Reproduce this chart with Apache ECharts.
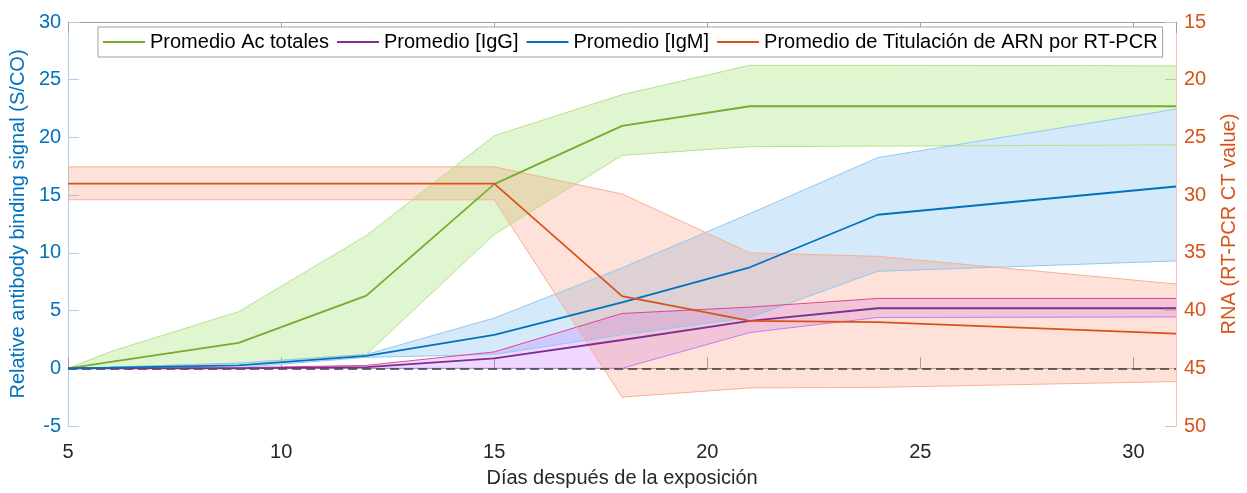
<!DOCTYPE html>
<html><head><meta charset="utf-8">
<script src="https://cdn.jsdelivr.net/npm/echarts@6/dist/echarts.min.js"></script>
<style>html,body{margin:0;padding:0;background:#fff}#c{width:1247px;height:493px}</style>
</head><body><div id="c"></div>
<script>
// ---- data ----
const days = [5, 6, 9, 12, 15, 18, 21, 24, 31];

const totalMean  = [0, 0.55, 2.2, 6.3, 15.95, 21.0, 22.7, 22.7, 22.7];
const totalUpper = [0, 1.45, 4.9, 11.5, 20.15, 23.7, 26.25, 26.25, 26.2];
const totalLower = [0, 0.1, 0.45, 1.2, 11.6, 18.45, 19.2, 19.25, 19.35];

const igmMean  = [0, 0.05, 0.25, 1.08, 2.9, 5.7, 8.75, 13.3, 15.75];
const igmUpper = [0, 0.1, 0.45, 1.2, 4.35, 8.7, 13.4, 18.25, 22.45];
const igmLower = [0, 0, 0.05, 0.95, 1.2, 2.9, 4.4, 8.4, 9.3];

const iggMean  = [0, 0, 0, 0.1, 0.85, 2.45, 4.1, 5.2, 5.2];
const iggUpper = [0, 0, 0.05, 0.25, 1.42, 4.75, 5.3, 6.05, 6.05];
const iggLower = [0, 0, 0, 0, 0, 0, 3.1, 4.4, 4.45];

// RT-PCR CT values (right axis)
const ctMean = [29, 29, 29, 29, 29, 38.75, 40.9, 41.0, 42.0];
const ctLow  = [27.55, 27.55, 27.55, 27.55, 27.55, 29.9, 35.0, 35.3, 37.7];
const ctHigh = [30.4, 30.4, 30.4, 30.4, 30.4, 47.5, 46.7, 46.65, 46.15];

const seriesNames = ['Promedio Ac totales', 'Promedio [IgG]', 'Promedio [IgM]', 'Promedio de Titulación de ARN por RT-PCR'];
const xTitle = 'Días después de la exposición';
const yLeftTitle = 'Relative antibody binding signal (S/CO)';
const yRightTitle = 'RNA (RT-PCR CT value)';
const xRange = [5, 31], yLeftRange = [-5, 30], yRightRange = [15, 50], tickStep = 5;

// ---- chart ----
const FONT = "'Liberation Sans', Arial, sans-serif";
const chart = echarts.init(document.getElementById('c'), null, {renderer: 'canvas'});

function bandFill(upper, lower, yAxisIndex, fill) {
  return {
    type: 'custom', yAxisIndex: yAxisIndex, silent: true, z: 1,
    data: days.map((d, i) => [d, upper[i], lower[i]]),
    encode: {x: 0, y: [1, 2]},
    renderItem: function (params, api) {
      if (params.dataIndex !== 0) return null;
      const up = days.map((d, i) => api.coord([d, upper[i]]));
      const lo = days.map((d, i) => api.coord([d, lower[i]]));
      return {type: 'polygon', shape: {points: up.concat(lo.slice().reverse())}, style: {fill: fill, stroke: null}};
    }
  };
}

function bandEdges(upper, lower, yAxisIndex, upColor, lowColor) {
  return {
    type: 'custom', yAxisIndex: yAxisIndex, silent: true, z: 1,
    data: days.map((d, i) => [d, upper[i], lower[i]]),
    encode: {x: 0, y: [1, 2]},
    renderItem: function (params, api) {
      if (params.dataIndex !== 0) return null;
      const up = days.map((d, i) => api.coord([d, upper[i]]));
      const lo = days.map((d, i) => api.coord([d, lower[i]]));
      return {type: 'group', children: [
        {type: 'polyline', shape: {points: up}, style: {fill: null, stroke: upColor, lineWidth: 1}},
        {type: 'polyline', shape: {points: lo}, style: {fill: null, stroke: lowColor, lineWidth: 1}}
      ]};
    }
  };
}

function meanLine(name, vals, color, yAxisIndex) {
  return {
    type: 'line', name: name, yAxisIndex: yAxisIndex, z: 3,
    data: days.map((d, i) => [d, vals[i]]),
    symbol: 'none', showSymbol: false, silent: true,
    lineStyle: {color: color, width: 1.8}, itemStyle: {color: color}
  };
}

const totalLine = meanLine(seriesNames[0], totalMean, '#77AC30', 0);
totalLine.markLine = {
  silent: true, symbol: ['none', 'none'], label: {show: false}, z: 2,
  lineStyle: {color: '#3c3c3c', width: 1.6, type: [9, 5]},
  data: [{yAxis: 0}]
};

const option = {
  animation: false,
  textStyle: {fontFamily: FONT},
  grid: {left: 65, right: 59, top: 22, bottom: 61, containLabel: false},
  legend: {
    data: seriesNames, left: 98, top: 27, orient: 'horizontal', icon: 'rect',
    backgroundColor: '#fff', borderColor: '#a0a0a0', borderWidth: 1,
    padding: [5, 5, 5, 5], itemWidth: 42, itemHeight: 2, itemGap: 8,
    textStyle: {fontSize: 20, color: '#000', fontFamily: FONT}
  },
  xAxis: [{
    type: 'value', min: xRange[0], max: xRange[1], interval: tickStep, position: 'bottom',
    axisLine: {lineStyle: {color: '#a0a0a0', width: 1}},
    axisTick: {inside: true, length: 11, lineStyle: {color: '#a0a0a0'}},
    axisLabel: {color: '#262626', fontSize: 20, margin: 16, showMaxLabel: false, fontFamily: FONT},
    splitLine: {show: false},
    name: xTitle, nameLocation: 'middle', nameGap: 42,
    nameTextStyle: {color: '#262626', fontSize: 20, fontFamily: FONT}
  }, {
    type: 'value', min: xRange[0], max: xRange[1], interval: tickStep, position: 'top',
    axisLine: {lineStyle: {color: '#a0a0a0', width: 1}},
    axisTick: {inside: true, length: 11, lineStyle: {color: '#a0a0a0'}},
    axisLabel: {show: false}, splitLine: {show: false}
  }],
  yAxis: [{
    type: 'value', min: yLeftRange[0], max: yLeftRange[1], interval: tickStep, position: 'left',
    axisLine: {show: true, lineStyle: {color: '#a8cff0', width: 1}},
    axisTick: {show: true, inside: true, length: 11, lineStyle: {color: '#a8cff0'}},
    axisLabel: {color: '#0072BD', fontSize: 20, margin: 7, fontFamily: FONT},
    splitLine: {show: false},
    name: yLeftTitle, nameLocation: 'middle', nameGap: 32,
    nameTextStyle: {color: '#0072BD', fontSize: 20, fontFamily: FONT}
  }, {
    type: 'value', min: yRightRange[0], max: yRightRange[1], interval: tickStep, position: 'right', inverse: true,
    axisLine: {show: true, lineStyle: {color: '#f6c4ad', width: 1}},
    axisTick: {show: true, inside: true, length: 11, lineStyle: {color: '#f3b497'}},
    axisLabel: {color: '#D95319', fontSize: 20, margin: 8, fontFamily: FONT},
    splitLine: {show: false},
    name: yRightTitle, nameLocation: 'middle', nameGap: 43,
    nameTextStyle: {color: '#D95319', fontSize: 20, fontFamily: FONT}
  }],
  series: [
    bandFill(totalUpper, totalLower, 0, 'rgba(150,225,100,0.30)'),
    bandFill(igmUpper, igmLower, 0, 'rgb(212,234,251)'),
    bandFill(iggUpper, iggLower, 0, 'rgba(190,100,255,0.25)'),
    bandFill(ctLow, ctHigh, 1, 'rgba(250,130,90,0.24)'),
    bandEdges(totalUpper, totalLower, 0, '#b8e08e', '#b8e08e'),
    bandEdges(igmUpper, igmLower, 0, '#92c8ef', '#92c8ef'),
    bandEdges(iggUpper, iggLower, 0, '#e0468c', '#c87af0'),
    bandEdges(ctLow, ctHigh, 1, '#f9b095', '#f9b095'),
    totalLine,
    meanLine(seriesNames[1], iggMean, '#7E2F8E', 0),
    meanLine(seriesNames[2], igmMean, '#0072BD', 0),
    meanLine(seriesNames[3], ctMean, '#D95319', 1)
  ]
};
chart.setOption(option);
</script>
</body></html>
